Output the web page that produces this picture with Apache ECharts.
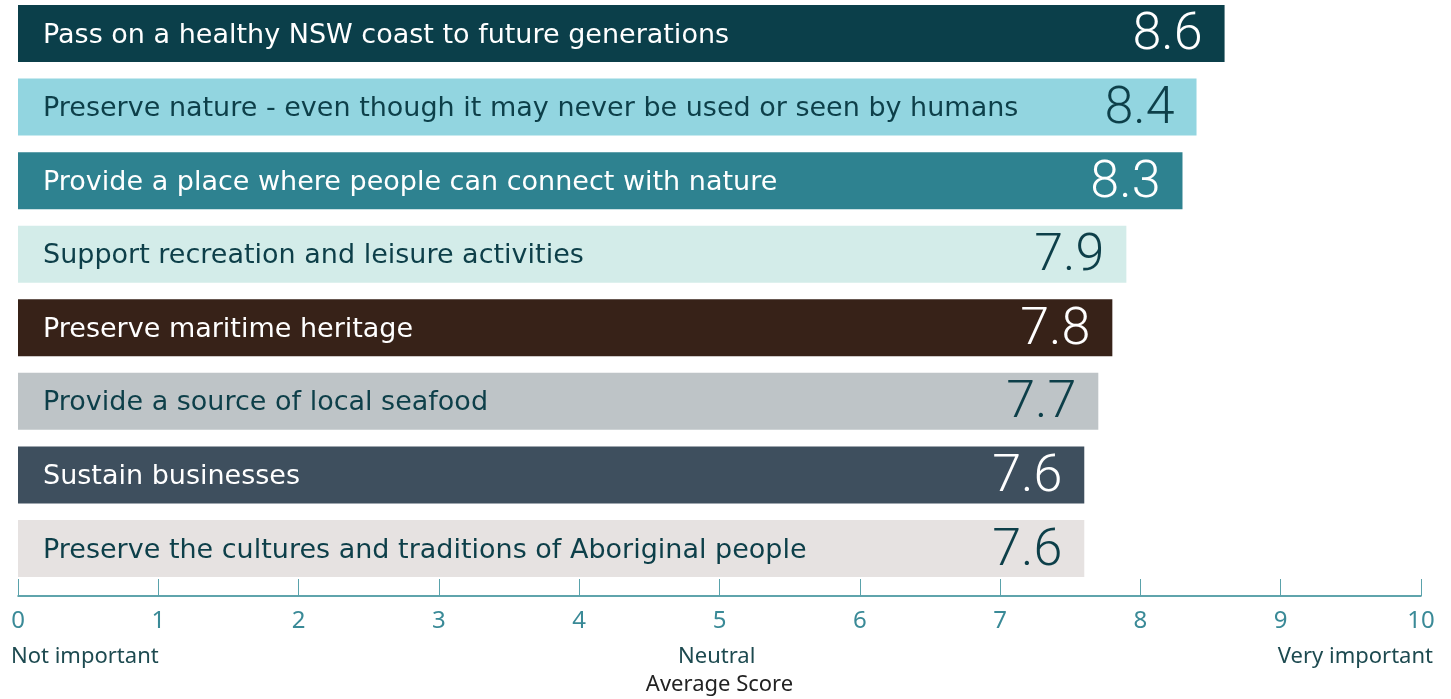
<!DOCTYPE html>
<html>
<head>
<meta charset="utf-8">
<style>
  html, body { margin: 0; padding: 0; background: #ffffff; }
  #chart { width: 1451px; height: 699px; }
</style>
<script src="https://cdn.jsdelivr.net/npm/echarts@6/dist/echarts.min.js"></script>
</head>
<body>
<div id="chart"></div>
<script>
const categories = [
  "Pass on a healthy NSW coast to future generations",
  "Preserve nature - even though it may never be used or seen by humans",
  "Provide a place where people can connect with nature",
  "Support recreation and leisure activities",
  "Preserve maritime heritage",
  "Provide a source of local seafood",
  "Sustain businesses",
  "Preserve the cultures and traditions of Aboriginal people"
];
const scores = [8.6, 8.4, 8.3, 7.9, 7.8, 7.7, 7.6, 7.6];
const barColors = ["#0b3f4a", "#92d5e0", "#2e8290", "#d3ece9", "#372218", "#bec4c7", "#3e4f5e", "#e6e2e1"];
const textColors = ["#ffffff", "#0d3f49", "#ffffff", "#0d3f49", "#ffffff", "#0d3f49", "#ffffff", "#0d3f49"];
const tickValues = [0, 1, 2, 3, 4, 5, 6, 7, 8, 9, 10];
const scaleNotes = { 0: "Not important", 5: "Neutral", 10: "Very important" };

const chart = echarts.init(document.getElementById("chart"));

const nameData = scores.map((v, i) => ({
  value: v,
  itemStyle: { color: barColors[i] },
  label: { color: textColors[i] }
}));
const valueData = scores.map((v, i) => ({
  value: v,
  label: { color: textColors[i] }
}));

chart.setOption({
  animation: false,
  backgroundColor: "#ffffff",
  // v6 keeps labels inside by default; turn that off so the grid sits where we put it
  grid: { left: 18, right: 30, top: -3.3, height: 588.6, outerBoundsMode: "none", containLabel: false },
  xAxis: {
    type: "value",
    min: tickValues[0],
    max: tickValues[tickValues.length - 1],
    interval: 1,
    offset: 10.7,
    axisLine: { show: true, lineStyle: { color: "#2b8691", width: 1.5 } },
    axisTick: { show: true, inside: true, length: 17, lineStyle: { color: "#5aa2ab", width: 1 } },
    splitLine: { show: false },
    axisLabel: {
      color: "#3a8a97",
      fontFamily: "Noto Sans",
      fontSize: 24,
      margin: 13
    },
    name: "Average Score",
    nameLocation: "middle",
    nameGap: 78,
    nameTextStyle: { color: "#222222", fontFamily: "Noto Sans", fontSize: 22 }
  },
  yAxis: {
    type: "category",
    data: categories,
    inverse: true,
    show: false
  },
  graphic: [
    { type: "text", left: 11, top: 646, style: { text: scaleNotes[0], fill: "#1d4a50", font: "22px 'Noto Sans'" } },
    { type: "text", left: 678, top: 646, style: { text: scaleNotes[5], fill: "#1d4a50", font: "22px 'Noto Sans'" } },
    { type: "text", right: 18, top: 646, style: { text: scaleNotes[10], fill: "#1d4a50", font: "22px 'Noto Sans'" } }
  ],
  series: [
    {
      type: "bar",
      data: nameData,
      barWidth: 57,
      barGap: "-100%",
      label: {
        show: true,
        position: "insideLeft",
        distance: 25,
        offset: [0, 2],
        fontFamily: "DejaVu Sans",
        fontSize: 27,
        formatter: (p) => categories[p.dataIndex]
      }
    },
    {
      type: "bar",
      data: valueData,
      barWidth: 57,
      barGap: "-100%",
      itemStyle: { color: "rgba(0,0,0,0)" },
      label: {
        show: true,
        position: "insideRight",
        distance: 22,
        offset: [0, 3],
        fontFamily: "Roboto",
        fontWeight: 300,
        fontSize: 52,
        formatter: (p) => p.value.toFixed(1)
      }
    }
  ]
});
</script>
</body>
</html>
